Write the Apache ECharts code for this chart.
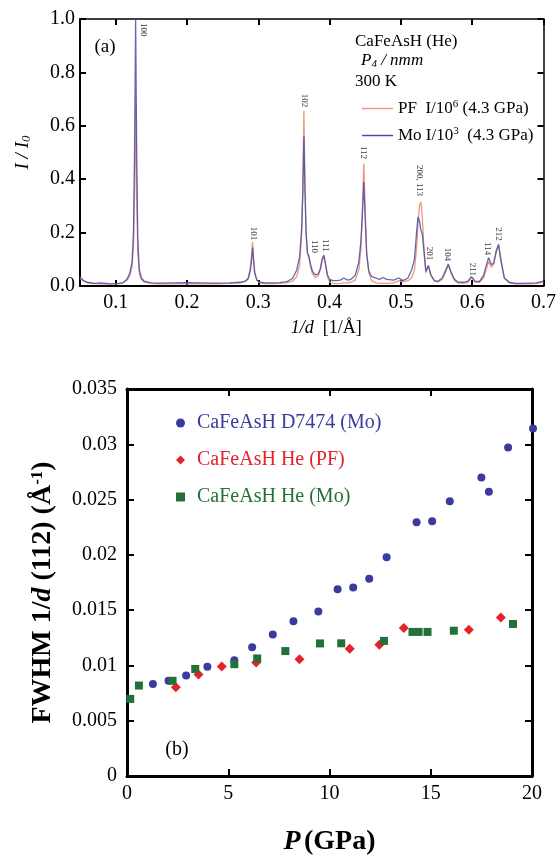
<!DOCTYPE html>
<html>
<head>
<meta charset="utf-8">
<script src="https://cdn.jsdelivr.net/npm/echarts@6/dist/echarts.min.js"></script>
<style>
  html, body { margin: 0; padding: 0; background: #fff; }
  #chart { width: 559px; height: 857px; }
</style>
</head>
<body>
<div id="chart"></div>
<script>
// (a) diffraction profiles
const invD = [0.050, 0.055, 0.060, 0.070, 0.080, 0.090, 0.100, 0.110, 0.116, 0.120, 0.123, 0.125, 0.1265, 0.128, 0.1295, 0.131, 0.133, 0.136, 0.140, 0.150,
  0.160, 0.180, 0.200, 0.220, 0.240, 0.260, 0.275, 0.282, 0.286, 0.289, 0.2905, 0.292, 0.2935, 0.295, 0.298, 0.302, 0.310, 0.320, 0.330, 0.340,
  0.348, 0.354, 0.358, 0.361, 0.3625, 0.364, 0.3655, 0.367, 0.369, 0.371, 0.373, 0.376, 0.380, 0.384, 0.387, 0.3895, 0.392, 0.3945, 0.397, 0.400,
  0.405, 0.410, 0.415, 0.420, 0.425, 0.430, 0.436, 0.441, 0.444, 0.446, 0.448, 0.450, 0.452, 0.455, 0.459, 0.465, 0.470, 0.475, 0.480, 0.490,
  0.497, 0.503, 0.510, 0.515, 0.519, 0.522, 0.524, 0.526, 0.528, 0.530, 0.532, 0.535, 0.5385, 0.542, 0.547, 0.552, 0.558, 0.5625, 0.5665, 0.570,
  0.575, 0.580, 0.588, 0.594, 0.599, 0.604, 0.610, 0.616, 0.620, 0.623, 0.627, 0.630, 0.634, 0.637, 0.6405, 0.645, 0.652, 0.660, 0.670, 0.680,
  0.690, 0.700];
const pfIntensity = [0.030, 0.018, 0.012, 0.009, 0.008, 0.007, 0.008, 0.012, 0.022, 0.040, 0.070, 0.150, 0.340, 0.676, 0.340, 0.130, 0.050, 0.025, 0.015, 0.010,
  0.008, 0.008, 0.008, 0.008, 0.008, 0.010, 0.012, 0.018, 0.030, 0.070, 0.110, 0.166, 0.105, 0.055, 0.022, 0.012, 0.009, 0.009, 0.010, 0.012,
  0.018, 0.035, 0.080, 0.200, 0.380, 0.655, 0.380, 0.200, 0.120, 0.105, 0.075, 0.045, 0.032, 0.038, 0.060, 0.095, 0.112, 0.075, 0.035, 0.015,
  0.010, 0.009, 0.010, 0.012, 0.012, 0.014, 0.022, 0.060, 0.140, 0.280, 0.459, 0.280, 0.130, 0.050, 0.020, 0.012, 0.010, 0.010, 0.010, 0.012,
  0.020, 0.015, 0.020, 0.030, 0.060, 0.140, 0.230, 0.300, 0.315, 0.260, 0.160, 0.050, 0.075, 0.040, 0.018, 0.015, 0.025, 0.050, 0.078, 0.050,
  0.022, 0.012, 0.010, 0.014, 0.033, 0.014, 0.014, 0.030, 0.065, 0.092, 0.070, 0.080, 0.130, 0.150, 0.090, 0.030, 0.012, 0.008, 0.008, 0.008,
  0.009, 0.015];
const moIntensity = [0.035, 0.020, 0.014, 0.010, 0.012, 0.009, 0.008, 0.012, 0.025, 0.050, 0.090, 0.200, 0.500, 1.000, 0.500, 0.180, 0.065, 0.030, 0.018, 0.012,
  0.011, 0.012, 0.013, 0.012, 0.011, 0.012, 0.014, 0.018, 0.028, 0.060, 0.095, 0.144, 0.090, 0.048, 0.022, 0.014, 0.012, 0.012, 0.013, 0.016,
  0.028, 0.060, 0.110, 0.220, 0.350, 0.561, 0.360, 0.200, 0.125, 0.112, 0.085, 0.055, 0.042, 0.045, 0.065, 0.100, 0.116, 0.080, 0.042, 0.025,
  0.020, 0.020, 0.022, 0.030, 0.022, 0.025, 0.040, 0.090, 0.170, 0.270, 0.389, 0.250, 0.120, 0.055, 0.035, 0.030, 0.025, 0.032, 0.025, 0.022,
  0.030, 0.020, 0.030, 0.060, 0.100, 0.200, 0.258, 0.245, 0.210, 0.195, 0.140, 0.055, 0.077, 0.042, 0.020, 0.018, 0.030, 0.058, 0.082, 0.055,
  0.025, 0.015, 0.014, 0.018, 0.035, 0.018, 0.016, 0.040, 0.080, 0.106, 0.080, 0.085, 0.135, 0.156, 0.095, 0.030, 0.014, 0.010, 0.010, 0.011,
  0.012, 0.018];

// reflection labels: hkl and where they sit (1/d, I/I0)
const hklNames = ['100', '101', '102', '110', '111', '112', '200, 113', '201', '104', '211', '114', '212'];
const hklInvD = [0.139, 0.2926, 0.3645, 0.3785, 0.3947, 0.448, 0.5265, 0.5395, 0.565, 0.5998, 0.6206, 0.636];
const hklLevel = [0.96, 0.197, 0.695, 0.148, 0.152, 0.5, 0.395, 0.122, 0.118, 0.062, 0.14, 0.195];

// (b) FWHM of the 112 peak vs pressure
const pD7474 = [1.28, 2.05, 2.92, 3.97, 5.3, 6.18, 7.2, 8.22, 9.45, 10.4, 11.17, 11.96, 12.82, 14.3, 15.07, 15.94, 17.5, 17.87, 18.82, 20.05];
const fwhmD7474 = [0.00832, 0.00861, 0.0091, 0.00988, 0.01046, 0.01164, 0.0128, 0.014, 0.01487, 0.0169, 0.01704, 0.01785, 0.01979, 0.02296, 0.02305, 0.02484, 0.027, 0.0257, 0.0297, 0.03142];
const pHePF = [2.41, 3.53, 4.68, 6.38, 8.52, 11.0, 12.46, 13.67, 16.88, 18.46];
const fwhmHePF = [0.00803, 0.00918, 0.00991, 0.01026, 0.01057, 0.0115, 0.01187, 0.01338, 0.01323, 0.01433];
const pHeMo = [0.16, 0.59, 2.25, 3.37, 5.3, 6.43, 7.82, 9.53, 10.58, 12.69, 14.1, 14.4, 14.84, 16.14, 19.06];
const fwhmHeMo = [0.00697, 0.00818, 0.00861, 0.00968, 0.01011, 0.01063, 0.0113, 0.01199, 0.012, 0.01222, 0.01303, 0.01303, 0.01303, 0.01314, 0.01375];

const serif = "'Liberation Serif', 'DejaVu Serif', serif";
const pfColor = '#e99a80';
const moColor = '#4b4ba6';
const blue = '#3b3b9f';
const red = '#e52229';
const green = '#23703a';

const chart = echarts.init(document.getElementById('chart'));

function frameAxis(gridIndex, position, min, max, interval, tickLen, lineW) {
  const ax = {
    gridIndex: gridIndex,
    type: 'value',
    position: position,
    min: min,
    max: max,
    axisLine: { show: true, onZero: false, lineStyle: { color: '#000', width: lineW } },
    axisTick: { show: true, inside: true, length: tickLen, lineStyle: { color: '#000', width: 2 } },
    axisLabel: { show: false },
    splitLine: { show: false }
  };
  if (interval) ax.interval = interval;
  return ax;
}

const xTop = frameAxis(0, 'bottom', 0.05, 0.7, null, 6, 2);
xTop.axisLabel = {
  show: true, color: '#000', fontFamily: serif, fontSize: 20, margin: 7,
  showMinLabel: false,
  formatter: v => (Math.abs(v * 10 - Math.round(v * 10)) < 1e-6 ? v.toFixed(1) : '')
};
xTop.name = '{i|1/d}  [1/Å]';
xTop.nameLocation = 'middle';
xTop.nameGap = 33;
xTop.nameTextStyle = {
  color: '#000', fontFamily: serif, fontSize: 18, padding: [0, 0, 0, 29],
  rich: { i: { fontFamily: serif, fontSize: 18, fontStyle: 'italic', color: '#000' } }
};
const xTopMirror = frameAxis(0, 'top', 0.05, 0.7, null, 6, 1.5);

const yTop = frameAxis(0, 'left', 0, 1, 0.2, 6, 2);
yTop.axisLabel = { show: true, color: '#000', fontFamily: serif, fontSize: 20, margin: 5, formatter: v => v.toFixed(1) };
yTop.name = '{i|I / I}{sub|0}';
yTop.nameLocation = 'middle';
yTop.nameGap = 47;
yTop.nameTextStyle = {
  rich: {
    i: { fontFamily: serif, fontSize: 19, fontStyle: 'italic', color: '#000' },
    sub: { fontFamily: serif, fontSize: 13, fontStyle: 'italic', color: '#000', verticalAlign: 'bottom', padding: [8, 0, 0, 0] }
  }
};
const yTopMirror = frameAxis(0, 'right', 0, 1, 0.2, 6, 1.5);

const xBot = frameAxis(1, 'bottom', 0, 20, 5, 7, 3);
xBot.axisLabel = { show: true, color: '#000', fontFamily: serif, fontSize: 20, margin: 8 };
xBot.name = '{bi|P} {b|(GPa)}';
xBot.nameLocation = 'middle';
xBot.nameGap = 52;
xBot.nameTextStyle = {
  rich: {
    bi: { fontFamily: serif, fontSize: 28, fontWeight: 'bold', fontStyle: 'italic', color: '#000' },
    b: { fontFamily: serif, fontSize: 28, fontWeight: 'bold', color: '#000' }
  }
};
const xBotMirror = frameAxis(1, 'top', 0, 20, 5, 7, 3);

const yBot = frameAxis(1, 'left', 0, 0.035, 0.005, 7, 3);
yBot.axisLabel = { show: true, color: '#000', fontFamily: serif, fontSize: 20, margin: 10 };
yBot.name = '{b|FWHM 1/}{bi|d}{b| (112) (Å}{sup|-1}{b|)}';
yBot.nameLocation = 'middle';
yBot.nameGap = 70;
yBot.nameTextStyle = {
  padding: [0, 20, 0, 0],
  rich: {
    b: { fontFamily: serif, fontSize: 28, fontWeight: 'bold', color: '#000' },
    bi: { fontFamily: serif, fontSize: 28, fontWeight: 'bold', fontStyle: 'italic', color: '#000' },
    sup: { fontFamily: serif, fontSize: 17, fontWeight: 'bold', color: '#000', verticalAlign: 'top', padding: [0, 0, 10, 0] }
  }
};
const yBotMirror = frameAxis(1, 'right', 0, 0.035, 0.005, 7, 3);

const legendRich = {
  t: { fontFamily: serif, fontSize: 17, color: '#000' },
  sup: { fontFamily: serif, fontSize: 11, color: '#000', verticalAlign: 'top', padding: [0, 0, 8, 0] }
};

const option = {
  animation: false,
  backgroundColor: '#fff',
  grid: [
    { left: 80, top: 19, width: 467, height: 267 },
    { left: 127, top: 389, width: 405, height: 404 }
  ],
  xAxis: [xTop, xTopMirror, xBot, xBotMirror],
  yAxis: [yTop, yTopMirror, yBot, yBotMirror],
  legend: [
    {
      data: [{ name: 'PF', icon: 'rect' }, { name: 'Mo', icon: 'rect' }],
      orient: 'vertical',
      left: 357,
      top: 94,
      itemWidth: 31,
      itemHeight: 1.5,
      itemGap: 9,
      formatter: name => name === 'PF'
        ? '{t|PF  I/10}{sup|6}{t| (4.3 GPa)}'
        : '{t|Mo I/10}{sup|3}{t|  (4.3 GPa)}',
      textStyle: { rich: legendRich }
    },
    {
      data: [
        { name: 'CaFeAsH D7474 (Mo)', textStyle: { color: blue } },
        { name: 'CaFeAsH He (PF)', textStyle: { color: red } },
        { name: 'CaFeAsH He (Mo)', textStyle: { color: green } }
      ],
      orient: 'vertical',
      left: 171,
      top: 408,
      itemWidth: 9,
      itemHeight: 9,
      itemGap: 17,
      textStyle: { fontFamily: serif, fontSize: 20, padding: [0, 0, 0, 7] }
    }
  ],
  graphic: [
    { type: 'text', x: 105, y: 47, style: { text: '(a)', font: '19px ' + serif, fill: '#000', textAlign: 'center', textVerticalAlign: 'middle' } },
    { type: 'text', x: 355, y: 42, style: { text: 'CaFeAsH (He)', font: '17px ' + serif, fill: '#000', textVerticalAlign: 'middle' } },
    {
      type: 'text', x: 361, y: 61,
      style: {
        text: '{i|P}{s|4}{i| / nmm}',
        textVerticalAlign: 'middle',
        rich: {
          i: { fontFamily: serif, fontSize: 17, fontStyle: 'italic', fill: '#000' },
          s: { fontFamily: serif, fontSize: 11, fontStyle: 'italic', fill: '#000', verticalAlign: 'bottom', padding: [6, 0, 0, 0] }
        }
      }
    },
    { type: 'text', x: 355, y: 82, style: { text: '300 K', font: '17px ' + serif, fill: '#000', textVerticalAlign: 'middle' } },
    { type: 'text', x: 177, y: 750, style: { text: '(b)', font: '20px ' + serif, fill: '#000', textAlign: 'center', textVerticalAlign: 'middle' } }
  ],
  series: [
    {
      name: 'PF',
      type: 'line',
      xAxisIndex: 0,
      yAxisIndex: 0,
      symbol: 'none',
      lineStyle: { color: pfColor, width: 1.3 },
      itemStyle: { color: pfColor },
      data: invD.map((x, i) => [x, pfIntensity[i]])
    },
    {
      name: 'Mo',
      type: 'line',
      xAxisIndex: 0,
      yAxisIndex: 0,
      symbol: 'none',
      lineStyle: { color: moColor, width: 1.3, opacity: 0.85 },
      itemStyle: { color: moColor },
      data: invD.map((x, i) => [x, moIntensity[i]])
    },
    {
      name: 'hkl',
      type: 'scatter',
      xAxisIndex: 0,
      yAxisIndex: 0,
      symbolSize: 1,
      itemStyle: { color: 'transparent' },
      label: {
        show: true,
        position: 'inside',
        rotate: -90,
        fontFamily: serif,
        fontSize: 9,
        color: '#000',
        formatter: p => p.value[2]
      },
      data: hklNames.map((n, i) => [hklInvD[i], hklLevel[i], n])
    },
    {
      name: 'CaFeAsH D7474 (Mo)',
      type: 'scatter',
      xAxisIndex: 2,
      yAxisIndex: 2,
      clip: false,
      symbol: 'circle',
      symbolSize: 8,
      itemStyle: { color: blue, opacity: 1 },
      data: pD7474.map((p, i) => [p, fwhmD7474[i]])
    },
    {
      name: 'CaFeAsH He (PF)',
      type: 'scatter',
      xAxisIndex: 2,
      yAxisIndex: 2,
      symbol: 'diamond',
      symbolSize: 10,
      itemStyle: { color: red, opacity: 1 },
      data: pHePF.map((p, i) => [p, fwhmHePF[i]])
    },
    {
      name: 'CaFeAsH He (Mo)',
      type: 'scatter',
      xAxisIndex: 2,
      yAxisIndex: 2,
      symbol: 'rect',
      symbolSize: 8,
      itemStyle: { color: green, opacity: 1 },
      data: pHeMo.map((p, i) => [p, fwhmHeMo[i]])
    }
  ]
};

chart.setOption(option);
</script>
</body>
</html>
